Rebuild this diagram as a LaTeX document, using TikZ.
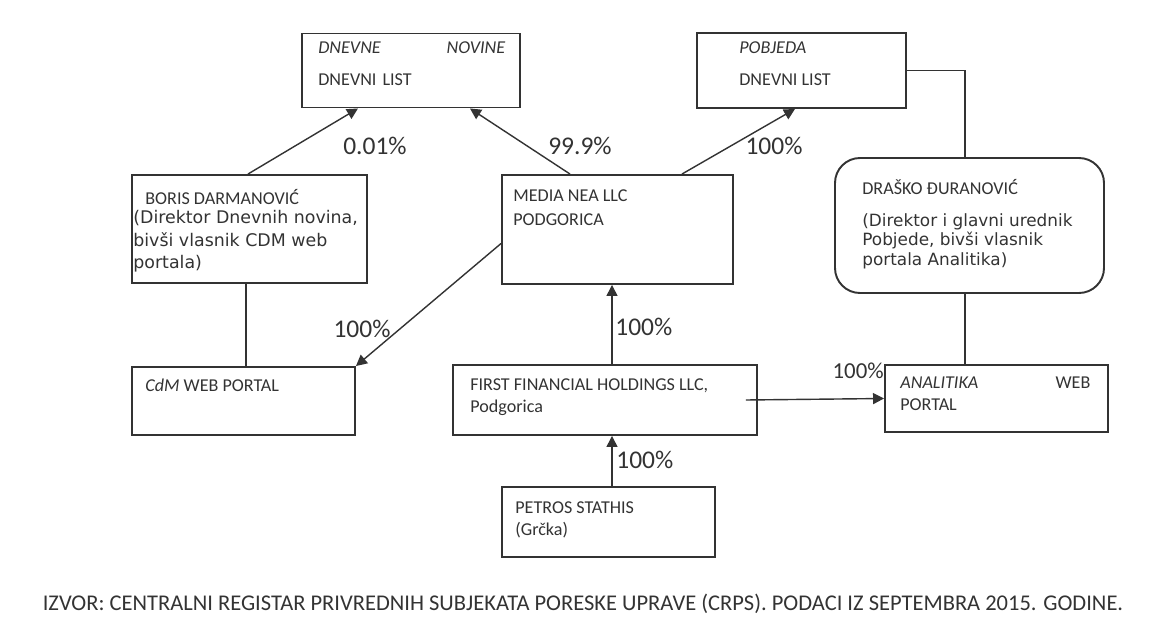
\documentclass[tikz,border=0pt]{standalone}
\usepackage{fontspec}
\setmainfont{Carlito}
\newfontfamily\verd{DejaVu Sans}
\usetikzlibrary{arrows.meta}
\definecolor{ink}{HTML}{333333}

\begin{document}
\begin{tikzpicture}[x=0.2mm, y=-0.2mm, ink, text=ink,
  box/.style = {draw, line width=1.1pt, minimum width=#1, inner sep=0pt},
  boxtext/.style = {anchor=north west, inner sep=0pt, align=left,
    font=\fontsize{10.3}{12.5}\selectfont},
  paren/.style = {anchor=north west, inner sep=0pt, align=left,
    font=\verd\fontsize{9.6}{11.2}\selectfont},
  pct/.style = {inner sep=0pt, font=\fontsize{14.5}{16}\selectfont},
  own/.style = {line width=0.8pt, -{Triangle[length=2.2mm, width=2.2mm]}},
  link/.style = {line width=0.8pt}]
  \useasboundingbox (0,0) rectangle (1160,636);

  % boxes
  \node[box=43.6mm, minimum height=14.8mm] (dn) at (411,70.5) {};
  \node[box=41.8mm, minimum height=15mm] (pob) at (801.5,70.5) {};
  \node[box=47mm, minimum height=21.6mm] (boris) at (249.5,229) {};
  \node[box=46.2mm, minimum height=21.8mm] (media) at (617.5,229.5) {};
  \node[box=53.8mm, minimum height=27mm, rounded corners=5mm] (drasko) at (969.5,225.5) {};
  \node[box=44.6mm, minimum height=13.6mm] (cdm) at (243.5,401) {};
  \node[box=60.8mm, minimum height=14mm] (ffh) at (605,400) {};
  \node[box=44.6mm, minimum height=13.4mm] (anl) at (996.5,398.5) {};
  \node[box=42.6mm, minimum height=14mm] (pet) at (608.5,522) {};

  % texts
  \node[boxtext, text width=37.4mm] (dnT) at (318,41)
    {\textit{DNEVNE}\hfill\textit{NOVINE}\\[6pt]DNEVNI LIST};
  \node[boxtext] (pobT) at (739,41) {\textit{POBJEDA}\\[6pt]DNEVNI LIST};
  \node[boxtext] (borisT) at (145,189) {BORIS DARMANOVIĆ};
  \node[paren, font=\verd\fontsize{9.9}{12.8}\selectfont] (borisP) at (133,210)
    {(Direktor Dnevnih novina,\\bivši vlasnik CDM web\\portala)};
  \node[boxtext, font=\fontsize{10.3}{14}\selectfont] (mediaT) at (513,189)
    {MEDIA NEA LLC\\PODGORICA};
  \node[boxtext] (draskoT) at (862,179) {DRAŠKO ĐURANOVIĆ};
  \node[paren] (draskoP) at (862,213)
    {(Direktor i glavni urednik\\Pobjede, bivši vlasnik\\portala Analitika)};
  \node[boxtext] (cdmT) at (145,379) {\textit{CdM} WEB PORTAL};
  \node[boxtext] (ffhT) at (470,378) {FIRST FINANCIAL HOLDINGS LLC,\\Podgorica};
  \node[boxtext, text width=38mm] (anlT) at (900,377)
    {\textit{ANALITIKA}\hfill WEB\\PORTAL};
  \node[boxtext, font=\fontsize{10.3}{13}\selectfont] (petT) at (515,501)
    {PETROS STATHIS\\(Grčka)};

  % connectors
  \draw[own] ([shift={(-1.5,0)}]boris.north) -- ([shift={(-53,0)}]dn.south);
  \draw[own] ([shift={(-47.5,0)}]media.north) -- ([shift={(59,0)}]dn.south);
  \draw[own] ([shift={(64.5,0)}]media.north) -- ([shift={(-6.5,0)}]pob.south);
  \draw[link] (pob.east) -| (drasko.north -| 965,0);
  \draw[link] (drasko.south -| 965,0) -- (anl.north -| 965,0);
  \draw[link] (boris.south -| 246,0) -- (cdm.north -| 246,0);
  \draw[own] ([shift={(0,14)}]media.west) -- (cdm.north east);
  \draw[own] (ffh.north -| 612,0) -- (media.south -| 612,0);
  \draw[own] ([shift={(-12,0)}]ffh.east) -- (anl.west);
  \draw[own] (pet.north -| 612,0) -- (ffh.south -| 612,0);

  % shares
  \node[pct] (p1) at (375,146) {0.01\%};
  \node[pct] (p2) at (580,146) {99.9\%};
  \node[pct] (p3) at (774,146) {100\%};
  \node[pct] (p4) at (362,329) {100\%};
  \node[pct, anchor=west] (p5) at (615,327) {100\%};
  \node[pct, anchor=east, font=\fontsize{13}{15}\selectfont] (p6) at (884,371) {100\%};
  \node[pct, anchor=west] (p7) at (616,460) {100\%};

  \node[inner sep=0pt, font=\fontsize{12.8}{14}\selectfont] (src) at (583,604)
    {IZVOR: CENTRALNI REGISTAR PRIVREDNIH SUBJEKATA PORESKE UPRAVE (CRPS). PODACI IZ SEPTEMBRA 2015. GODINE.};
\end{tikzpicture}
\end{document}
